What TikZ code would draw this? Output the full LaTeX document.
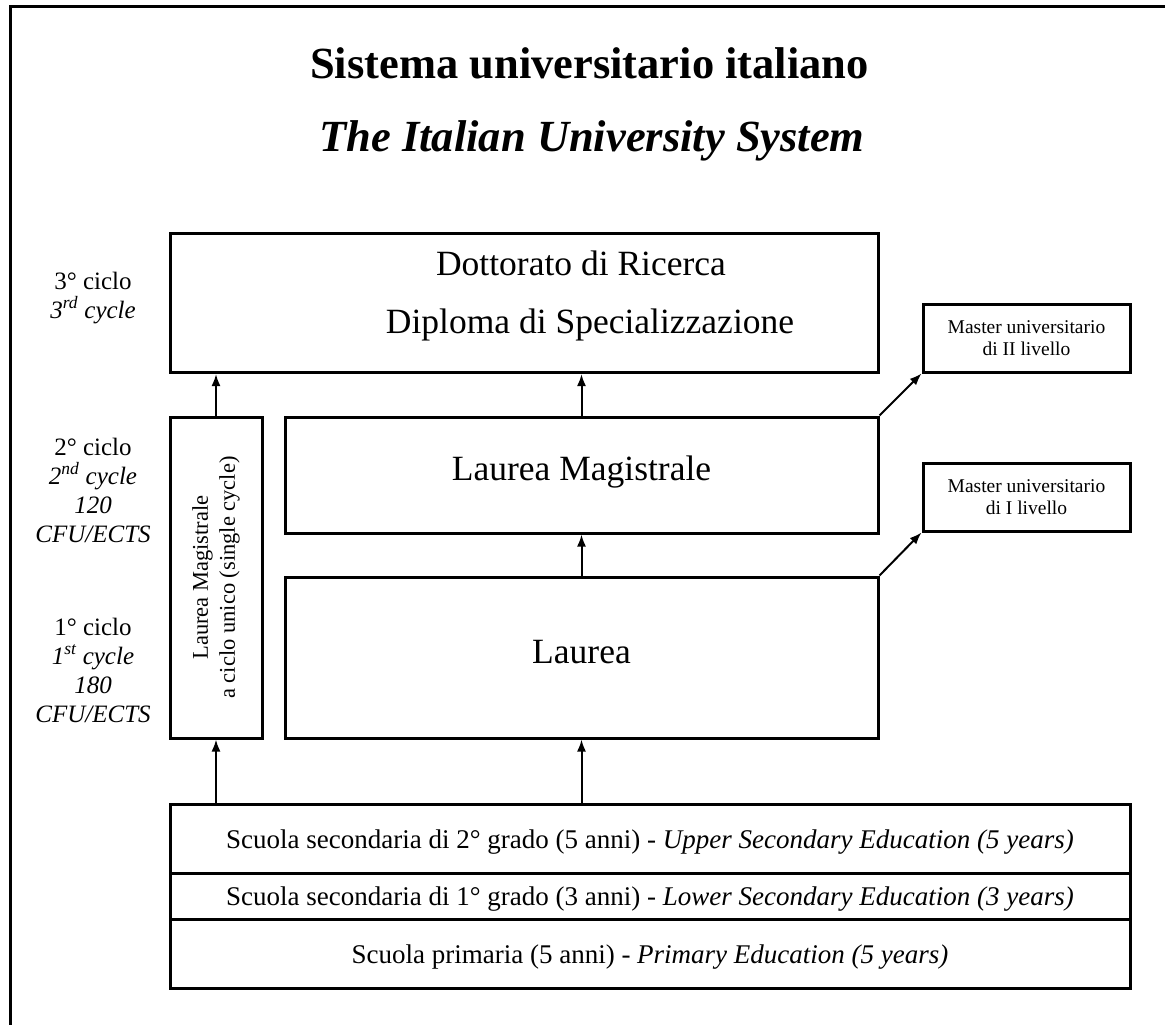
\documentclass[tikz,border=0pt]{standalone}
\usepackage{fontspec}
\setmainfont{Liberation Serif}
\usepackage{tikz}
\usetikzlibrary{arrows.meta}
\usetikzlibrary{calc}
\usetikzlibrary{positioning}
\newcommand{\ord}[1]{\textsuperscript{#1}}
\tikzset{
  box/.style={draw, line width=3pt, inner sep=0, align=center},
  big/.style={font=\fontsize{35.5}{40}\selectfont, text height=24pt, text depth=13pt},
  small/.style={font=\fontsize{19.5}{22.5}\selectfont, align=center},
  side/.style={font=\fontsize{25}{29}\selectfont, align=center},
  vert/.style={font=\fontsize{22.5}{27}\selectfont, align=center, rotate=90},
  school/.style={font=\fontsize{27}{30}\selectfont, text height=19pt, text depth=0pt},
  arrow/.style={->, >={Latex[length=12pt,width=9pt]}, line width=2pt}
}

\begin{document}
\begin{tikzpicture}[x=1pt,y=-1pt,node distance=57.5pt]

    \path[fill=white, use as bounding box] (0,0) rectangle (1165,1025);
    \draw[line width=3pt] (10,1025) |- (1165,7);

    \node[font=\fontsize{44.5}{50}\selectfont\bfseries, anchor=base] (title)
          at (589.5,78) {Sistema universitario italiano};
    \node[font=\fontsize{44.5}{50}\selectfont\bfseries\itshape, anchor=base] (subtitle)
          at (592,151) {The Italian University System};

    \node[box, minimum width=708pt, minimum height=139pt] (dott) at (524,303) {};
    \node[big, anchor=base] (dotttxt) at (581,275) {Dottorato di Ricerca};
    \node[big, anchor=base] (diptxt) at (590,333) {Diploma di Specializzazione};
    \node[box, big, minimum width=593pt, minimum height=116pt] (lm)
          at (581.5,475) {Laurea Magistrale};
    \node[box, big, minimum width=593pt, minimum height=161pt] (lau)
          at (581.5,657.5) {Laurea};
    \node[box, minimum width=92pt, minimum height=321pt] (single) at (216,577.5) {};
    \node[vert] (singletxt) at (single) {Laurea Magistrale\\a ciclo unico (single cycle)};

    \node[box, small, minimum width=207pt, minimum height=68pt] (m2)
          at (1026.5,338) {Master universitario\\di II livello};
    \node[box, small, minimum width=207pt, minimum height=68pt] (m1)
          at (1026.5,497) {Master universitario\\di I livello};

    \node[side, anchor=base] (c3) at (93,318) {3° ciclo\\\textit{3\ord{rd} cycle}};
    \node[side, anchor=base] (c2) at (93,542)
          {2° ciclo\\\textit{2\ord{nd} cycle}\\\textit{120}\\\textit{CFU/ECTS}};
    \node[side, anchor=base] (c1) at (93,722)
          {1° ciclo\\\textit{1\ord{st} cycle}\\\textit{180}\\\textit{CFU/ECTS}};

    \node[box, school, minimum width=960pt, minimum height=69pt] (sec2) at (650,838.5)
          {Scuola secondaria di 2° grado (5 anni) - \textit{Upper Secondary Education (5 years)}};
    \node[box, school, minimum width=960pt, minimum height=46pt, below of=sec2] (sec1)
          {Scuola secondaria di 1° grado (3 anni) - \textit{Lower Secondary Education (3 years)}};
    \node[box, school, minimum width=960pt, minimum height=69pt, below of=sec1] (prim)
          {Scuola primaria (5 anni) - \textit{Primary Education (5 years)}};

    \draw[arrow] (single.north) -- (single.north |- dott.south);
    \draw[arrow] (lm.north) -- (lm.north |- dott.south);
    \draw[arrow] (lau) -- (lm);
    \draw[arrow] (sec2.north -| single) -- (single.south);
    \draw[arrow] (sec2.north -| lau) -- (lau.south);
    \draw[arrow] (lm.north east) -- (m2.south west);
    \draw[arrow] (lau.north east) -- (m1.south west);
\end{tikzpicture}
\end{document}
